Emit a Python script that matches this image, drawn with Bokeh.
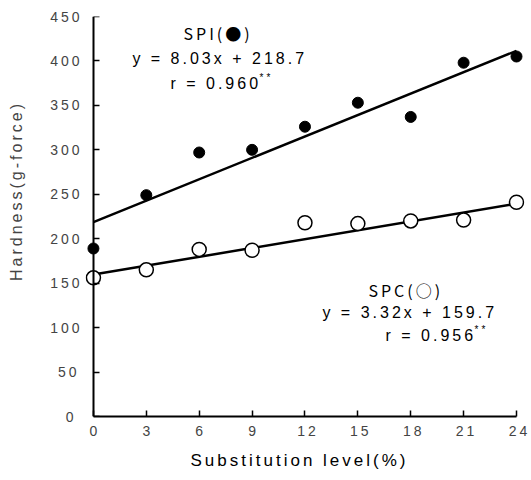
from bokeh.plotting import figure
from bokeh.models import (FixedTicker, Range1d, ColumnDataSource, InlineStyleSheet, LinearAxis,
                          CustomLabelingPolicy, Title)
from bokeh.core.properties import value
from bokeh.embed import file_html
from bokeh.resources import INLINE

# ---- data ----
levels = [0, 3, 6, 9, 12, 15, 18, 21, 24]
spi_hardness = [189, 249, 297, 300, 326, 353, 337, 398, 405]
spc_hardness = [156, 165, 188, 187, 218, 217, 220, 221, 241]
spi_slope, spi_intercept = 8.03, 218.7
spc_slope, spc_intercept = 3.32, 159.7
x_ticks = [0, 3, 6, 9, 12, 15, 18, 21, 24]
y_ticks = [0, 50, 100, 150, 200, 250, 300, 350, 400, 450]
line_x = [0, 24]

FONT = "Liberation Sans"

p = figure(width=531, height=480, output_backend="svg", toolbar_location=None,
           x_range=Range1d(-0.45, 24.454), y_range=Range1d(0, 450),
           min_border_left=85, min_border_right=7, min_border_top=16, min_border_bottom=64)
p.stylesheets = [InlineStyleSheet(css=":host { letter-spacing: 3px; }")]
p.outline_line_color = None
p.xgrid.visible = False
p.ygrid.visible = False
p.background_fill_color = "white"

# x axis: line, ticks, tick labels
xa = p.xaxis[0]
xa.ticker = FixedTicker(ticks=x_ticks)
xa.bounds = (0, 24)
xa.axis_line_width = 2
xa.major_tick_in = 6
xa.major_tick_out = 0
xa.major_tick_line_width = 1.5
xa.minor_tick_line_color = None
xa.major_label_text_font = FONT
xa.major_label_text_font_size = "14px"
xa.major_label_standoff = 9

# x axis title
p.add_layout(Title(text="Substitution level(%)", align="left", offset=105,
                   text_font=FONT, text_font_size="17px", text_font_style="normal",
                   text_color="black", standoff=20), "below")

# y axis: labels and title in the side panel
ya = p.yaxis[0]
ya.ticker = FixedTicker(ticks=y_ticks)
ya.bounds = (0, 450)
ya.axis_line_color = None
ya.major_tick_line_color = None
ya.major_tick_in = 0
ya.major_tick_out = 0
ya.minor_tick_line_color = None
ya.major_label_text_font = FONT
ya.major_label_text_font_size = "14px"
ya.major_label_standoff = 12
ya.axis_label = "Hardness(g-force)"
ya.axis_label_text_font = FONT
ya.axis_label_text_font_size = "16px"
ya.axis_label_text_font_style = "normal"
ya.axis_label_standoff = 22

# y axis line and ticks at x = 0 (no labels of its own)
no_labels = CustomLabelingPolicy(code="""
const n = indices.size;
for (let i = 0; i < n; i++) { indices.unset(i); }
return indices;
""")
ya2 = LinearAxis(fixed_location=0, ticker=FixedTicker(ticks=y_ticks), bounds=(0, 450),
                 axis_line_width=2, major_tick_in=6, major_tick_out=0, major_tick_line_width=1.5,
                 minor_tick_line_color=None, major_label_policy=no_labels,
                 major_label_standoff=0)
p.add_layout(ya2, "left")

# regression lines
p.line(line_x, [spi_intercept + spi_slope * x for x in line_x], line_color="black", line_width=2.5)
p.line(line_x, [spc_intercept + spc_slope * x for x in line_x], line_color="black", line_width=2.5)

src = ColumnDataSource(dict(x=levels, spi=spi_hardness, spc=spc_hardness))
p.scatter("x", "spi", source=src, size=11, fill_color="black", line_color="black")
p.scatter("x", "spc", source=src, size=14, fill_color="white", line_color="black", line_width=1.5)

def txt(x, y, s, size="16px", font=FONT, yoff=0):
    p.text(x=[x], y=[y], text=[s], text_font=value(font), text_font_size=size,
           text_align="left", text_baseline="middle", text_color="black", y_offset=yoff)

txt(5.11, 431, "SPI(●)", font="Noto Sans CJK JP")
txt(2.21, 403, "y = 8.03x + 218.7")
txt(4.37, 375, "r = 0.960")
txt(9.42, 375, "**", size="10px", yoff=-6)

txt(15.60, 142, "SPC(○)", font="Noto Sans CJK JP")
txt(12.99, 117, "y = 3.32x + 159.7")
txt(16.57, 91, "r = 0.956")
txt(21.62, 91, "**", size="10px", yoff=-6)

open("out.html", "w").write(file_html(p, INLINE))
